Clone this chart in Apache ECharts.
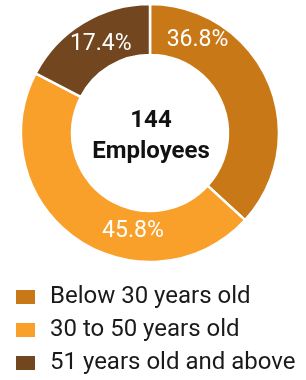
<!DOCTYPE html>
<html>
<head>
<meta charset="utf-8">
<title>Employees by age</title>
<script src="https://cdn.jsdelivr.net/npm/echarts@6/dist/echarts.min.js"></script>
<style>
html, body { margin: 0; padding: 0; background: #fff; }
#chart { width: 306px; height: 380px; }
</style>
</head>
<body>
<div id="chart"></div>
<script>
// age groups and head counts (144 total)
var groups = ['Below 30 years old', '30 to 50 years old', '51 years old and above'];
var counts = [53, 66, 25];
var colors = ['#C97818', '#F9A02B', '#72461E'];
var totalText = '144\nEmployees';

// nudges for the percentage labels (the original does not sit them at mid-angle)
var labelShift = [[-50, -50], [44, 11], [6, 2]];

var chart = echarts.init(document.getElementById('chart'));

var data = [];
for (var i = 0; i < groups.length; i++) {
  data.push({ name: groups[i], value: counts[i], itemStyle: { color: colors[i] } });
}

chart.setOption({
  animation: false,
  textStyle: { fontFamily: 'Roboto' },
  title: {
    text: totalText,
    left: 151,
    top: 136,
    padding: 0,
    textAlign: 'center',
    textVerticalAlign: 'middle',
    textStyle: { fontFamily: 'Roboto', fontSize: 24, fontWeight: 'bold', color: '#111', lineHeight: 31 }
  },
  legend: {
    orient: 'vertical',
    left: 14,
    top: 285,
    height: 100,
    padding: 0,
    itemWidth: 21,
    itemHeight: 16,
    itemGap: 9,
    icon: 'rect',
    data: groups,
    textStyle: { fontFamily: 'Roboto', fontSize: 24, color: '#1a1a1a', padding: [0, 0, 0, 9] }
  },
  series: [{
    type: 'pie',
    center: [150, 133],
    radius: [78, 129],
    startAngle: 90,
    clockwise: true,
    percentPrecision: 1,
    avoidLabelOverlap: false,
    silent: true,
    itemStyle: { borderColor: '#fff', borderWidth: 2.5 },
    label: {
      show: true,
      position: 'inside',
      formatter: '{d}%',
      color: '#fff',
      fontSize: 23,
      fontFamily: 'Roboto'
    },
    labelLine: { show: false },
    labelLayout: function (p) {
      var s = labelShift[p.dataIndex];
      return { dx: s[0], dy: s[1] };
    },
    data: data
  }]
});
</script>
</body>
</html>
